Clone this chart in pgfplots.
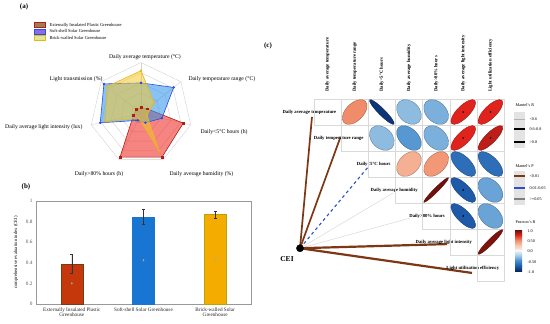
\documentclass[border=0pt]{standalone}
\usepackage{fontspec}
\setmainfont{Liberation Serif}
\usepackage{pgfplots}
\pgfplotsset{compat=1.18}
\usepgfplotslibrary{polar}
\newcommand\fs[1]{\fontsize{#1}{#1}\selectfont}

\definecolor{redS}{RGB}{240,50,45}
\definecolor{redL}{RGB}{175,30,20}
\definecolor{blueS}{RGB}{40,145,235}
\definecolor{blueL}{RGB}{45,75,225}
\definecolor{yelS}{RGB}{245,200,45}
\definecolor{yelL}{RGB}{230,185,25}
\definecolor{legA}{RGB}{160,125,80}
\definecolor{legB}{RGB}{135,110,230}
\definecolor{legC}{RGB}{222,232,150}
\definecolor{barA}{RGB}{196,56,12}
\definecolor{barAL}{RGB}{120,60,20}
\definecolor{barB}{RGB}{24,118,210}
\definecolor{barC}{RGB}{245,172,0}
\definecolor{barCL}{RGB}{185,165,0}
\definecolor{mBrown}{RGB}{125,55,20}
\definecolor{mBlue}{RGB}{45,80,200}

\pgfplotsset{colormap={pearson}{rgb255=(5,40,100) rgb255=(30,90,170) rgb255=(70,140,205) rgb255=(160,200,230) rgb255=(245,245,245) rgb255=(248,200,175) rgb255=(240,140,105) rgb255=(225,35,30) rgb255=(100,15,10)}}

\pgfdeclareplotmark{corrEll}{%
  \pgfmathsetmacro\ekA{12.4*sqrt(1+abs(\rval))*0.70711}%
  \pgfmathsetmacro\ekB{12.4*sqrt(1-abs(\rval))*0.70711}%
  \pgfmathsetmacro\ekAy{(\rval<0?-1:1)*\ekA}%
  \pgfmathsetmacro\ekBx{(\rval<0?1:-1)*\ekB}%
  \pgfpathellipse{\pgfpointorigin}{\pgfpoint{\ekA pt}{\ekAy pt}}{\pgfpoint{\ekBx pt}{\ekB pt}}%
  \pgfusepathqfillstroke}
\pgfdeclareplotmark{cellbox}{%
  \pgfpathrectangle{\pgfpoint{-13.57pt}{-13pt}}{\pgfpoint{27.14pt}{26pt}}%
  \pgfusepathqstroke}

\begin{document}
\begin{tikzpicture}
\useasboundingbox (0pt,0pt) rectangle (550pt,-324pt);

% ---------------- (a) radar ----------------
\node[font=\bfseries\fs{7}] at (24pt,-7pt) {(a)};
\begin{polaraxis}[at={(141pt,-113.5pt)}, anchor=center, scale only axis,
  width=102pt, height=102pt, ymin=0, ymax=1, hide axis, clip=false]
\pgfplotsinvokeforeach{0.2,0.4,0.6,0.8,1}{
\addplot[gray!35, line width=0.4pt, no marks] coordinates {(90,#1)(38.571,#1)(-12.857,#1)(-64.286,#1)(-115.714,#1)(-167.143,#1)(141.429,#1)(90,#1)};
}
\pgfplotsinvokeforeach{90,38.571,-12.857,-64.286,-115.714,-167.143,141.429}{
\addplot[gray!35, line width=0.4pt, no marks] coordinates {(#1,0)(#1,1)};
}
\addplot[draw=redL, line width=0.6pt, fill=redS, fill opacity=0.6, mark=square*, mark size=0.9pt, mark options={fill=redL, fill opacity=1}]
  coordinates {(90,0.12)(38.571,0.15)(-12.857,0.85)(-64.286,0.95)(-115.714,0.95)(-167.143,0.15)(141.429,0.12)(90,0.12)};
\addplot[draw=blueL, line width=0.6pt, fill=blueS, fill opacity=0.55, mark=*, mark size=0.9pt, mark options={fill=blueL, fill opacity=1}]
  coordinates {(90,0.6)(38.571,0.82)(-12.857,0.42)(-64.286,0.2)(-115.714,0.15)(-167.143,0.82)(141.429,0.93)(90,0.6)};
\addplot[draw=yelL, line width=0.6pt, fill=yelS, fill opacity=0.55, mark=triangle*, mark size=0.9pt, mark options={fill=yelL, fill opacity=1}]
  coordinates {(90,0.84)(38.571,0.33)(-12.857,0.12)(-64.286,0.8)(-115.714,0.1)(-167.143,0.72)(141.429,0.85)(90,0.84)};
\end{polaraxis}
\begin{scope}[font=\fs{5.7}]
\node at (145pt,-57pt) {Daily average temperature (°C)};
\node[anchor=west] at (185pt,-79pt) {Daily temperature range (°C)};
\node[anchor=west] at (197pt,-132pt) {Daily<5°C hours (h)};
\node[anchor=west] at (166pt,-174pt) {Daily average humidity (\%)};
\node at (99pt,-174pt) {Daily>80\% hours (h)};
\node[anchor=east] at (86pt,-127pt) {Daily average light intensity (lux)};
\node[anchor=east] at (106pt,-79pt) {Light transmission (\%)};
\end{scope}
% legend (a)
\draw[draw=redL, fill=legA, line width=0.5pt] (34pt,-22.5pt) rectangle (45pt,-27.5pt);
\draw[draw=blueL, fill=legB, line width=0.5pt] (34pt,-28.8pt) rectangle (45pt,-33.8pt);
\draw[draw=yelL, fill=legC, line width=0.5pt] (34pt,-35pt) rectangle (45pt,-40pt);
\begin{scope}[font=\fs{4.5}]
\node[anchor=west] at (46pt,-25pt) {Externally Insulated Plastic Greenhouse};
\node[anchor=west] at (46pt,-31.3pt) {Soft-shell Solar Greenhouse};
\node[anchor=west] at (46pt,-37.5pt) {Brick-walled Solar Greenhouse};
\end{scope}

% ---------------- (b) bars ----------------
\node[font=\bfseries\fs{7}] at (26pt,-187pt) {(b)};
\begin{axis}[at={(36pt,-304pt)}, anchor=south west, scale only axis,
  width=215pt, height=103pt, xmin=-0.5, xmax=2.5, ymin=0, ymax=1,
  xtick={0,1,2},
  xticklabels={{Externally Insulated Plastic\\Greenhouse},{Soft-shell Solar Greenhouse},{Brick-walled Solar\\Greenhouse}},
  xticklabel style={align=center, font=\fs{5.2}, text=black!85},
  ytick={0,0.2,0.4,0.6,0.8,1},
  yticklabel style={font=\fs{5.2}, text=black!65},
  /pgf/number format/assume math mode=true,
  major tick length=0pt,
  axis line style={black!40, line width=0.4pt},
  ylabel={comprehensive evaluation index (CEI)},
  ylabel style={font=\fs{4.7}, at={(axis description cs:-0.093,0.5)}, anchor=center},
  ybar, bar width=22pt, bar shift=0pt]
\addplot[fill=barA, draw=barAL, line width=0.6pt,
  error bars/.cd, y dir=both, y explicit,
  error bar style={black!80, line width=0.5pt},
  error mark options={rotate=90, mark size=1.4pt, black!80}]
  coordinates {(0,0.39) +- (0,0.09)};
\addplot[fill=barB, draw=barB, line width=0.6pt,
  error bars/.cd, y dir=both, y explicit,
  error bar style={black!80, line width=0.5pt},
  error mark options={rotate=90, mark size=1.4pt, black!80}]
  coordinates {(1,0.845) +- (0,0.073)};
\addplot[fill=barC, draw=barCL, line width=0.6pt,
  error bars/.cd, y dir=both, y explicit,
  error bar style={black!80, line width=0.5pt},
  error mark options={rotate=90, mark size=1.4pt, black!80}]
  coordinates {(2,0.868) +- (0,0.032)};
\addplot[only marks, mark=diamond*, mark size=0.8pt, draw=black!35, fill=black!25, forget plot]
  coordinates {(0,0.2)(1,0.425)(2,0.435)};
\end{axis}

% ---------------- (c) correlation ----------------
\node[font=\bfseries\fs{7}] at (268pt,-46pt) {(c)};
\begin{axis}[at={(314pt,-99pt)}, anchor=north west, scale only axis,
  width=190pt, height=182pt, xmin=0.5, xmax=7.5, ymin=0.5, ymax=7.5,
  y dir=reverse, hide axis, clip=false,
  colormap name=pearson, point meta min=-1, point meta max=1]
\addplot[only marks, mark=cellbox, draw=gray!30, line width=0.4pt] coordinates {
 (1,1)(2,1)(3,1)(4,1)(5,1)(6,1)(7,1)
 (2,2)(3,2)(4,2)(5,2)(6,2)(7,2)
 (3,3)(4,3)(5,3)(6,3)(7,3)
 (4,4)(5,4)(6,4)(7,4)
 (5,5)(6,5)(7,5)
 (6,6)(7,6)
 (7,7)};
% Mantel links
\addplot[no marks, mBrown, line width=1.7pt] coordinates {(-0.016,6.24)(0.426,1.19)};
\addplot[no marks, mBrown, line width=1.7pt] coordinates {(-0.016,6.24)(1.48,1.95)};
\addplot[no marks, mBlue, line width=1.1pt, dashed] coordinates {(-0.016,6.24)(2.49,3.12)};
\addplot[no marks, gray!30, line width=0.5pt] coordinates {(-0.016,6.24)(3.41,4.12)};
\addplot[no marks, gray!30, line width=0.5pt] coordinates {(-0.016,6.24)(4.04,5.08)};
\addplot[no marks, mBrown, line width=2.2pt] coordinates {(-0.016,6.24)(5.40,6.08)};
\addplot[no marks, mBrown, line width=2.2pt] coordinates {(-0.016,6.24)(6.32,7.19)};
% ellipses
\addplot[scatter, only marks, mark=corrEll, line width=0.35pt,
  point meta=\thisrow{r},
  visualization depends on={\thisrow{r} \as \rval},
  scatter/use mapped color={draw=mapped color!65!black, fill=mapped color}]
  table {
x y r
2 1 0.5
3 1 -0.93
4 1 -0.3
5 1 -0.35
6 1 0.75
7 1 0.75
3 2 -0.3
4 2 -0.45
5 2 -0.35
6 2 0.75
7 2 0.82
4 3 0.35
5 3 0.45
6 3 -0.65
7 3 -0.65
5 4 0.97
6 4 -0.75
7 4 -0.4
6 5 -0.75
7 5 -0.4
7 6 0.95
};
\addplot[only marks, mark=*, mark size=0.6pt, black] coordinates {(6,1)(7,1)(6,2)(7,2)(6,4)(6,5)};
\addplot[only marks, mark=*, mark size=3.6pt, black] coordinates {(-0.016,6.24)};
\begin{scope}[font=\bfseries\fs{4.7}]
\node[anchor=east] at (axis cs:1.45,1) {Daily average temperature};
\node[anchor=east] at (axis cs:2.45,2) {Daily temperature range};
\node[anchor=east] at (axis cs:3.45,3) {Daily<5°C hours};
\node[anchor=east] at (axis cs:4.45,4) {Daily average humidity};
\node[anchor=east] at (axis cs:5.45,5) {Daily>80\% hours};
\node[anchor=east] at (axis cs:6.45,6) {Daily average light intensity};
\node[anchor=east] at (axis cs:7.45,7) {Light utilization efficiency};
\node[anchor=west, rotate=90] at (axis cs:1,0.35) {Daily average temperature};
\node[anchor=west, rotate=90] at (axis cs:2,0.35) {Daily temperature range};
\node[anchor=west, rotate=90] at (axis cs:3,0.35) {Daily<5°C hours};
\node[anchor=west, rotate=90] at (axis cs:4,0.35) {Daily average humidity};
\node[anchor=west, rotate=90] at (axis cs:5,0.35) {Daily>80\% hours};
\node[anchor=west, rotate=90] at (axis cs:6,0.35) {Daily average light intensity};
\node[anchor=west, rotate=90] at (axis cs:7,0.35) {Light utilization efficiency};
\end{scope}
\end{axis}
\node[font=\bfseries\fs{7.5}] at (287pt,-259pt) {CEI};

% legends right
\begin{scope}[font=\fs{4.2}]
\node[anchor=west] at (512pt,-105pt) {Mantel's R};
\fill[gray!22] (514pt,-112pt) rectangle (525pt,-148pt);
\draw[gray!60, line width=0.6pt] (514pt,-119pt) -- (525pt,-119pt);
\draw[black, line width=1.1pt] (514pt,-129pt) -- (525pt,-129pt);
\draw[black, line width=1.8pt] (514pt,-142pt) -- (525pt,-142pt);
\node[anchor=west] at (526pt,-119pt) {<0.6};
\node[anchor=west] at (526pt,-129pt) {0.6-0.8};
\node[anchor=west] at (526pt,-142pt) {>0.8};

\node[anchor=west] at (512pt,-166pt) {Mantel's P};
\fill[gray!22] (514pt,-171pt) rectangle (525pt,-205pt);
\draw[mBrown, line width=1.1pt] (514pt,-176pt) -- (525pt,-176pt);
\draw[mBlue, line width=1.1pt] (514pt,-188pt) -- (525pt,-188pt);
\draw[gray, line width=1.1pt] (514pt,-199pt) -- (525pt,-199pt);
\node[anchor=west] at (526pt,-176pt) {<0.01};
\node[anchor=west] at (526pt,-188pt) {0.01-0.05};
\node[anchor=west] at (526pt,-199pt) {>=0.05};

\node[anchor=west] at (512pt,-222pt) {Pearson's R};
\shade[top color={rgb,255:red,100;green,15;blue,10}, bottom color={rgb,255:red,225;green,35;blue,30}] (515pt,-230pt) rectangle (522pt,-235.1pt);
\shade[top color={rgb,255:red,225;green,35;blue,30}, bottom color={rgb,255:red,240;green,140;blue,105}] (515pt,-235pt) rectangle (522pt,-240.3pt);
\shade[top color={rgb,255:red,240;green,140;blue,105}, bottom color={rgb,255:red,248;green,200;blue,175}] (515pt,-240.2pt) rectangle (522pt,-245.4pt);
\shade[top color={rgb,255:red,248;green,200;blue,175}, bottom color={rgb,255:red,245;green,245;blue,245}] (515pt,-245.3pt) rectangle (522pt,-250.6pt);
\shade[top color={rgb,255:red,245;green,245;blue,245}, bottom color={rgb,255:red,160;green,200;blue,230}] (515pt,-250.5pt) rectangle (522pt,-255.8pt);
\shade[top color={rgb,255:red,160;green,200;blue,230}, bottom color={rgb,255:red,70;green,140;blue,205}] (515pt,-255.7pt) rectangle (522pt,-260.9pt);
\shade[top color={rgb,255:red,70;green,140;blue,205}, bottom color={rgb,255:red,30;green,90;blue,170}] (515pt,-260.8pt) rectangle (522pt,-266pt);
\shade[top color={rgb,255:red,30;green,90;blue,170}, bottom color={rgb,255:red,5;green,40;blue,100}] (515pt,-265.9pt) rectangle (522pt,-271pt);
\node[anchor=west] at (524pt,-231pt) {1.0};
\node[anchor=west] at (524pt,-241pt) {0.50};
\node[anchor=west] at (524pt,-251pt) {0.0};
\node[anchor=west] at (524pt,-262pt) {-0.50};
\node[anchor=west] at (524pt,-272pt) {-1.0};
\end{scope}
\end{tikzpicture}
\end{document}
